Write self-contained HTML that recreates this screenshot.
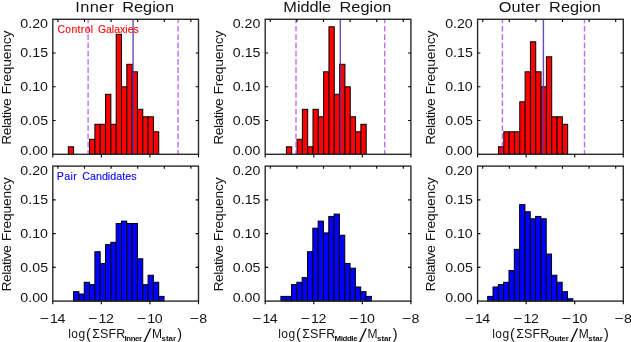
<!DOCTYPE html>
<html><head><meta charset="utf-8"><title>Histograms</title>
<style>html,body{margin:0;padding:0;background:#fff}svg{display:block}text{font-family:"Liberation Sans",sans-serif}</style></head><body>
<svg width="631" height="342" viewBox="0 0 631 342">
<rect width="631" height="342" fill="#fff"/>
<rect x="68.30" y="146.80" width="5.32" height="7.50" fill="#ff0000" stroke="#000" stroke-width="1.0"/>
<rect x="89.58" y="139.30" width="5.32" height="15.00" fill="#ff0000" stroke="#000" stroke-width="1.0"/>
<rect x="94.90" y="124.30" width="5.32" height="30.00" fill="#ff0000" stroke="#000" stroke-width="1.0"/>
<rect x="100.22" y="124.30" width="5.32" height="30.00" fill="#ff0000" stroke="#000" stroke-width="1.0"/>
<rect x="105.54" y="94.30" width="5.32" height="60.00" fill="#ff0000" stroke="#000" stroke-width="1.0"/>
<rect x="110.86" y="124.30" width="5.32" height="30.00" fill="#ff0000" stroke="#000" stroke-width="1.0"/>
<rect x="116.18" y="34.30" width="5.32" height="120.00" fill="#ff0000" stroke="#000" stroke-width="1.0"/>
<rect x="121.50" y="86.80" width="5.32" height="67.50" fill="#ff0000" stroke="#000" stroke-width="1.0"/>
<rect x="126.82" y="64.30" width="5.32" height="90.00" fill="#ff0000" stroke="#000" stroke-width="1.0"/>
<rect x="132.14" y="71.80" width="5.32" height="82.50" fill="#ff0000" stroke="#000" stroke-width="1.0"/>
<rect x="137.46" y="109.30" width="5.32" height="45.00" fill="#ff0000" stroke="#000" stroke-width="1.0"/>
<rect x="142.78" y="116.80" width="5.32" height="37.50" fill="#ff0000" stroke="#000" stroke-width="1.0"/>
<rect x="148.10" y="116.80" width="5.32" height="37.50" fill="#ff0000" stroke="#000" stroke-width="1.0"/>
<rect x="153.42" y="131.80" width="5.32" height="22.50" fill="#ff0000" stroke="#000" stroke-width="1.0"/>
<line x1="88.1" y1="154.3" x2="88.1" y2="19.3" stroke="#a020f0" stroke-opacity="0.66" stroke-width="1.4" stroke-dasharray="5.7 2.58" stroke-dashoffset="1.5"/>
<line x1="178.1" y1="154.3" x2="178.1" y2="19.3" stroke="#a020f0" stroke-opacity="0.66" stroke-width="1.4" stroke-dasharray="5.7 2.58" stroke-dashoffset="1.5"/>
<line x1="133.1" y1="154.3" x2="133.1" y2="19.3" stroke="#5434ac" stroke-opacity="0.88" stroke-width="1.4"/>
<rect x="52.8" y="19.3" width="145.7" height="135.0" stroke="#2a2a2a" stroke-width="1.4" fill="none"/>
<path d="M57.90 19.3v2.6M84.50 19.3v2.6M111.10 19.3v2.6M137.70 19.3v2.6M164.30 19.3v2.6M190.90 19.3v2.6M52.80 154.3v3.2M101.37 154.3v3.2M149.93 154.3v3.2M198.50 154.3v3.2M52.8 120.55h2.8M198.50 120.55h-2.8M52.8 86.80h2.8M198.50 86.80h-2.8M52.8 53.05h2.8M198.50 53.05h-2.8" stroke="#000" stroke-width="1.1" fill="none"/>
<rect x="286.40" y="146.80" width="5.32" height="7.50" fill="#ff0000" stroke="#000" stroke-width="1.0"/>
<rect x="297.04" y="139.30" width="5.32" height="15.00" fill="#ff0000" stroke="#000" stroke-width="1.0"/>
<rect x="302.36" y="109.30" width="5.32" height="45.00" fill="#ff0000" stroke="#000" stroke-width="1.0"/>
<rect x="307.68" y="146.80" width="5.32" height="7.50" fill="#ff0000" stroke="#000" stroke-width="1.0"/>
<rect x="313.00" y="109.30" width="5.32" height="45.00" fill="#ff0000" stroke="#000" stroke-width="1.0"/>
<rect x="318.32" y="116.80" width="5.32" height="37.50" fill="#ff0000" stroke="#000" stroke-width="1.0"/>
<rect x="323.64" y="71.80" width="5.32" height="82.50" fill="#ff0000" stroke="#000" stroke-width="1.0"/>
<rect x="328.96" y="26.80" width="5.32" height="127.50" fill="#ff0000" stroke="#000" stroke-width="1.0"/>
<rect x="334.28" y="94.30" width="5.32" height="60.00" fill="#ff0000" stroke="#000" stroke-width="1.0"/>
<rect x="339.60" y="64.30" width="5.32" height="90.00" fill="#ff0000" stroke="#000" stroke-width="1.0"/>
<rect x="344.92" y="86.80" width="5.32" height="67.50" fill="#ff0000" stroke="#000" stroke-width="1.0"/>
<rect x="350.24" y="116.80" width="5.32" height="37.50" fill="#ff0000" stroke="#000" stroke-width="1.0"/>
<rect x="355.56" y="131.80" width="5.32" height="22.50" fill="#ff0000" stroke="#000" stroke-width="1.0"/>
<rect x="360.88" y="124.30" width="5.32" height="30.00" fill="#ff0000" stroke="#000" stroke-width="1.0"/>
<line x1="296.0" y1="154.3" x2="296.0" y2="19.3" stroke="#a020f0" stroke-opacity="0.66" stroke-width="1.4" stroke-dasharray="5.7 2.58" stroke-dashoffset="1.5"/>
<line x1="384.7" y1="154.3" x2="384.7" y2="19.3" stroke="#a020f0" stroke-opacity="0.66" stroke-width="1.4" stroke-dasharray="5.7 2.58" stroke-dashoffset="1.5"/>
<line x1="340.3" y1="154.3" x2="340.3" y2="19.3" stroke="#5434ac" stroke-opacity="0.88" stroke-width="1.4"/>
<rect x="265.2" y="19.3" width="145.7" height="135.0" stroke="#2a2a2a" stroke-width="1.4" fill="none"/>
<path d="M270.30 19.3v2.6M296.90 19.3v2.6M323.50 19.3v2.6M350.10 19.3v2.6M376.70 19.3v2.6M403.30 19.3v2.6M265.20 154.3v3.2M313.77 154.3v3.2M362.33 154.3v3.2M410.90 154.3v3.2M265.2 120.55h2.8M410.90 120.55h-2.8M265.2 86.80h2.8M410.90 86.80h-2.8M265.2 53.05h2.8M410.90 53.05h-2.8" stroke="#000" stroke-width="1.1" fill="none"/>
<rect x="498.50" y="146.80" width="5.32" height="7.50" fill="#ff0000" stroke="#000" stroke-width="1.0"/>
<rect x="503.82" y="131.80" width="5.32" height="22.50" fill="#ff0000" stroke="#000" stroke-width="1.0"/>
<rect x="509.14" y="131.80" width="5.32" height="22.50" fill="#ff0000" stroke="#000" stroke-width="1.0"/>
<rect x="514.46" y="131.80" width="5.32" height="22.50" fill="#ff0000" stroke="#000" stroke-width="1.0"/>
<rect x="519.78" y="101.80" width="5.32" height="52.50" fill="#ff0000" stroke="#000" stroke-width="1.0"/>
<rect x="525.10" y="71.80" width="5.32" height="82.50" fill="#ff0000" stroke="#000" stroke-width="1.0"/>
<rect x="530.42" y="41.80" width="5.32" height="112.50" fill="#ff0000" stroke="#000" stroke-width="1.0"/>
<rect x="535.74" y="71.80" width="5.32" height="82.50" fill="#ff0000" stroke="#000" stroke-width="1.0"/>
<rect x="541.06" y="86.80" width="5.32" height="67.50" fill="#ff0000" stroke="#000" stroke-width="1.0"/>
<rect x="546.38" y="56.80" width="5.32" height="97.50" fill="#ff0000" stroke="#000" stroke-width="1.0"/>
<rect x="551.70" y="116.80" width="5.32" height="37.50" fill="#ff0000" stroke="#000" stroke-width="1.0"/>
<rect x="557.02" y="116.80" width="5.32" height="37.50" fill="#ff0000" stroke="#000" stroke-width="1.0"/>
<rect x="562.34" y="124.30" width="5.32" height="30.00" fill="#ff0000" stroke="#000" stroke-width="1.0"/>
<line x1="502.4" y1="154.3" x2="502.4" y2="19.3" stroke="#a020f0" stroke-opacity="0.66" stroke-width="1.4" stroke-dasharray="5.7 2.58" stroke-dashoffset="1.5"/>
<line x1="584.5" y1="154.3" x2="584.5" y2="19.3" stroke="#a020f0" stroke-opacity="0.66" stroke-width="1.4" stroke-dasharray="5.7 2.58" stroke-dashoffset="1.5"/>
<line x1="543.4" y1="154.3" x2="543.4" y2="19.3" stroke="#5434ac" stroke-opacity="0.88" stroke-width="1.4"/>
<rect x="477.6" y="19.3" width="145.7" height="135.0" stroke="#2a2a2a" stroke-width="1.4" fill="none"/>
<path d="M482.70 19.3v2.6M509.30 19.3v2.6M535.90 19.3v2.6M562.50 19.3v2.6M589.10 19.3v2.6M615.70 19.3v2.6M477.60 154.3v3.2M526.17 154.3v3.2M574.73 154.3v3.2M623.30 154.3v3.2M477.6 120.55h2.8M623.30 120.55h-2.8M477.6 86.80h2.8M623.30 86.80h-2.8M477.6 53.05h2.8M623.30 53.05h-2.8" stroke="#000" stroke-width="1.1" fill="none"/>
<rect x="73.60" y="291.69" width="5.32" height="9.41" fill="#0000ff" stroke="#000" stroke-width="1.0"/>
<rect x="78.92" y="294.04" width="5.32" height="7.06" fill="#0000ff" stroke="#000" stroke-width="1.0"/>
<rect x="84.24" y="282.28" width="5.32" height="18.82" fill="#0000ff" stroke="#000" stroke-width="1.0"/>
<rect x="89.56" y="284.64" width="5.32" height="16.46" fill="#0000ff" stroke="#000" stroke-width="1.0"/>
<rect x="94.88" y="251.71" width="5.32" height="49.39" fill="#0000ff" stroke="#000" stroke-width="1.0"/>
<rect x="100.20" y="263.47" width="5.32" height="37.63" fill="#0000ff" stroke="#000" stroke-width="1.0"/>
<rect x="105.52" y="244.65" width="5.32" height="56.45" fill="#0000ff" stroke="#000" stroke-width="1.0"/>
<rect x="110.84" y="242.30" width="5.32" height="58.80" fill="#0000ff" stroke="#000" stroke-width="1.0"/>
<rect x="116.16" y="223.49" width="5.32" height="77.61" fill="#0000ff" stroke="#000" stroke-width="1.0"/>
<rect x="121.48" y="221.13" width="5.32" height="79.97" fill="#0000ff" stroke="#000" stroke-width="1.0"/>
<rect x="126.80" y="223.49" width="5.32" height="77.61" fill="#0000ff" stroke="#000" stroke-width="1.0"/>
<rect x="132.12" y="223.49" width="5.32" height="77.61" fill="#0000ff" stroke="#000" stroke-width="1.0"/>
<rect x="137.44" y="258.77" width="5.32" height="42.33" fill="#0000ff" stroke="#000" stroke-width="1.0"/>
<rect x="142.76" y="284.64" width="5.32" height="16.46" fill="#0000ff" stroke="#000" stroke-width="1.0"/>
<rect x="148.08" y="275.23" width="5.32" height="25.87" fill="#0000ff" stroke="#000" stroke-width="1.0"/>
<rect x="153.40" y="282.28" width="5.32" height="18.82" fill="#0000ff" stroke="#000" stroke-width="1.0"/>
<rect x="158.72" y="296.40" width="5.32" height="4.70" fill="#0000ff" stroke="#000" stroke-width="1.0"/>
<rect x="52.8" y="166.1" width="145.7" height="135.00000000000003" stroke="#2a2a2a" stroke-width="1.4" fill="none"/>
<path d="M57.90 166.1v2.6M84.50 166.1v2.6M111.10 166.1v2.6M137.70 166.1v2.6M164.30 166.1v2.6M190.90 166.1v2.6M52.80 301.1v3.2M101.37 301.1v3.2M149.93 301.1v3.2M198.50 301.1v3.2M52.8 267.35h2.8M198.50 267.35h-2.8M52.8 233.60h2.8M198.50 233.60h-2.8M52.8 199.85h2.8M198.50 199.85h-2.8" stroke="#000" stroke-width="1.1" fill="none"/>
<rect x="280.90" y="296.40" width="5.32" height="4.70" fill="#0000ff" stroke="#000" stroke-width="1.0"/>
<rect x="286.22" y="296.40" width="5.32" height="4.70" fill="#0000ff" stroke="#000" stroke-width="1.0"/>
<rect x="291.54" y="284.64" width="5.32" height="16.46" fill="#0000ff" stroke="#000" stroke-width="1.0"/>
<rect x="296.86" y="282.28" width="5.32" height="18.82" fill="#0000ff" stroke="#000" stroke-width="1.0"/>
<rect x="302.18" y="277.58" width="5.32" height="23.52" fill="#0000ff" stroke="#000" stroke-width="1.0"/>
<rect x="307.50" y="251.71" width="5.32" height="49.39" fill="#0000ff" stroke="#000" stroke-width="1.0"/>
<rect x="312.82" y="228.19" width="5.32" height="72.91" fill="#0000ff" stroke="#000" stroke-width="1.0"/>
<rect x="318.14" y="221.13" width="5.32" height="79.97" fill="#0000ff" stroke="#000" stroke-width="1.0"/>
<rect x="323.46" y="232.89" width="5.32" height="68.21" fill="#0000ff" stroke="#000" stroke-width="1.0"/>
<rect x="328.78" y="216.43" width="5.32" height="84.67" fill="#0000ff" stroke="#000" stroke-width="1.0"/>
<rect x="334.10" y="214.08" width="5.32" height="87.02" fill="#0000ff" stroke="#000" stroke-width="1.0"/>
<rect x="339.42" y="235.25" width="5.32" height="65.85" fill="#0000ff" stroke="#000" stroke-width="1.0"/>
<rect x="344.74" y="263.47" width="5.32" height="37.63" fill="#0000ff" stroke="#000" stroke-width="1.0"/>
<rect x="350.06" y="268.17" width="5.32" height="32.93" fill="#0000ff" stroke="#000" stroke-width="1.0"/>
<rect x="355.38" y="286.99" width="5.32" height="14.11" fill="#0000ff" stroke="#000" stroke-width="1.0"/>
<rect x="360.70" y="291.69" width="5.32" height="9.41" fill="#0000ff" stroke="#000" stroke-width="1.0"/>
<rect x="366.02" y="296.40" width="5.32" height="4.70" fill="#0000ff" stroke="#000" stroke-width="1.0"/>
<rect x="265.2" y="166.1" width="145.7" height="135.00000000000003" stroke="#2a2a2a" stroke-width="1.4" fill="none"/>
<path d="M270.30 166.1v2.6M296.90 166.1v2.6M323.50 166.1v2.6M350.10 166.1v2.6M376.70 166.1v2.6M403.30 166.1v2.6M265.20 301.1v3.2M313.77 301.1v3.2M362.33 301.1v3.2M410.90 301.1v3.2M265.2 267.35h2.8M410.90 267.35h-2.8M265.2 233.60h2.8M410.90 233.60h-2.8M265.2 199.85h2.8M410.90 199.85h-2.8" stroke="#000" stroke-width="1.1" fill="none"/>
<rect x="487.70" y="296.40" width="5.32" height="4.70" fill="#0000ff" stroke="#000" stroke-width="1.0"/>
<rect x="493.02" y="286.99" width="5.32" height="14.11" fill="#0000ff" stroke="#000" stroke-width="1.0"/>
<rect x="498.34" y="284.64" width="5.32" height="16.46" fill="#0000ff" stroke="#000" stroke-width="1.0"/>
<rect x="503.66" y="282.28" width="5.32" height="18.82" fill="#0000ff" stroke="#000" stroke-width="1.0"/>
<rect x="508.98" y="270.53" width="5.32" height="30.57" fill="#0000ff" stroke="#000" stroke-width="1.0"/>
<rect x="514.30" y="249.36" width="5.32" height="51.74" fill="#0000ff" stroke="#000" stroke-width="1.0"/>
<rect x="519.62" y="204.67" width="5.32" height="96.43" fill="#0000ff" stroke="#000" stroke-width="1.0"/>
<rect x="524.94" y="211.73" width="5.32" height="89.37" fill="#0000ff" stroke="#000" stroke-width="1.0"/>
<rect x="530.26" y="218.78" width="5.32" height="82.32" fill="#0000ff" stroke="#000" stroke-width="1.0"/>
<rect x="535.58" y="216.43" width="5.32" height="84.67" fill="#0000ff" stroke="#000" stroke-width="1.0"/>
<rect x="540.90" y="218.78" width="5.32" height="82.32" fill="#0000ff" stroke="#000" stroke-width="1.0"/>
<rect x="546.22" y="254.06" width="5.32" height="47.04" fill="#0000ff" stroke="#000" stroke-width="1.0"/>
<rect x="551.54" y="275.23" width="5.32" height="25.87" fill="#0000ff" stroke="#000" stroke-width="1.0"/>
<rect x="556.86" y="282.28" width="5.32" height="18.82" fill="#0000ff" stroke="#000" stroke-width="1.0"/>
<rect x="562.18" y="291.69" width="5.32" height="9.41" fill="#0000ff" stroke="#000" stroke-width="1.0"/>
<rect x="567.50" y="298.75" width="5.32" height="2.35" fill="#0000ff" stroke="#000" stroke-width="1.0"/>
<rect x="477.6" y="166.1" width="145.7" height="135.00000000000003" stroke="#2a2a2a" stroke-width="1.4" fill="none"/>
<path d="M482.70 166.1v2.6M509.30 166.1v2.6M535.90 166.1v2.6M562.50 166.1v2.6M589.10 166.1v2.6M615.70 166.1v2.6M477.60 301.1v3.2M526.17 301.1v3.2M574.73 301.1v3.2M623.30 301.1v3.2M477.6 267.35h2.8M623.30 267.35h-2.8M477.6 233.60h2.8M623.30 233.60h-2.8M477.6 199.85h2.8M623.30 199.85h-2.8" stroke="#000" stroke-width="1.1" fill="none"/>
<g opacity="0.99">
<text transform="translate(75.36 11.60) scale(1.12 1)" font-size="14.6" style="fill:#111;letter-spacing:0.286px">Inner</text>
<text transform="translate(122.20 11.60) scale(1.12 1)" font-size="14.6" style="fill:#111;letter-spacing:0.004px">Region</text>
<text transform="translate(283.35 11.60) scale(1.12 1)" font-size="14.6" style="fill:#111;letter-spacing:-0.073px">Middle</text>
<text transform="translate(339.50 11.60) scale(1.12 1)" font-size="14.6" style="fill:#111;letter-spacing:0.004px">Region</text>
<text transform="translate(498.66 11.60) scale(1.12 1)" font-size="14.6" style="fill:#111;letter-spacing:0.121px">Outer</text>
<text transform="translate(549.10 11.60) scale(1.12 1)" font-size="14.6" style="fill:#111;letter-spacing:0.004px">Region</text>
<text transform="translate(20.35 154.70) scale(1.1 1)" font-size="12.9" style="fill:#111;letter-spacing:-0.011px">0.00</text>
<text transform="translate(20.35 124.95) scale(1.1 1)" font-size="12.9" style="fill:#111;letter-spacing:0.030px">0.05</text>
<text transform="translate(20.35 91.20) scale(1.1 1)" font-size="12.9" style="fill:#111;letter-spacing:-0.011px">0.10</text>
<text transform="translate(20.35 57.45) scale(1.1 1)" font-size="12.9" style="fill:#111;letter-spacing:0.030px">0.15</text>
<text transform="translate(20.35 28.00) scale(1.1 1)" font-size="12.9" style="fill:#111;letter-spacing:-0.011px">0.20</text>
<text transform="rotate(-90) translate(-144.72 10.50) scale(1.12 1)" font-size="12.4" style="fill:#111;letter-spacing:-0.477px">Relative</text>
<text transform="rotate(-90) translate(-94.42 10.50) scale(1.12 1)" font-size="12.4" style="fill:#111;letter-spacing:-0.179px">Frequency</text>
<text transform="translate(232.75 154.70) scale(1.1 1)" font-size="12.9" style="fill:#111;letter-spacing:-0.011px">0.00</text>
<text transform="translate(232.75 124.95) scale(1.1 1)" font-size="12.9" style="fill:#111;letter-spacing:0.030px">0.05</text>
<text transform="translate(232.75 91.20) scale(1.1 1)" font-size="12.9" style="fill:#111;letter-spacing:-0.011px">0.10</text>
<text transform="translate(232.75 57.45) scale(1.1 1)" font-size="12.9" style="fill:#111;letter-spacing:0.030px">0.15</text>
<text transform="translate(232.75 28.00) scale(1.1 1)" font-size="12.9" style="fill:#111;letter-spacing:-0.011px">0.20</text>
<text transform="rotate(-90) translate(-144.72 222.90) scale(1.12 1)" font-size="12.4" style="fill:#111;letter-spacing:-0.477px">Relative</text>
<text transform="rotate(-90) translate(-94.42 222.90) scale(1.12 1)" font-size="12.4" style="fill:#111;letter-spacing:-0.179px">Frequency</text>
<text transform="translate(445.15 154.70) scale(1.1 1)" font-size="12.9" style="fill:#111;letter-spacing:-0.011px">0.00</text>
<text transform="translate(445.15 124.95) scale(1.1 1)" font-size="12.9" style="fill:#111;letter-spacing:0.030px">0.05</text>
<text transform="translate(445.15 91.20) scale(1.1 1)" font-size="12.9" style="fill:#111;letter-spacing:-0.011px">0.10</text>
<text transform="translate(445.15 57.45) scale(1.1 1)" font-size="12.9" style="fill:#111;letter-spacing:0.030px">0.15</text>
<text transform="translate(445.15 28.00) scale(1.1 1)" font-size="12.9" style="fill:#111;letter-spacing:-0.011px">0.20</text>
<text transform="rotate(-90) translate(-144.72 435.30) scale(1.12 1)" font-size="12.4" style="fill:#111;letter-spacing:-0.477px">Relative</text>
<text transform="rotate(-90) translate(-94.42 435.30) scale(1.12 1)" font-size="12.4" style="fill:#111;letter-spacing:-0.179px">Frequency</text>
<text transform="translate(20.35 301.50) scale(1.1 1)" font-size="12.9" style="fill:#111;letter-spacing:-0.011px">0.00</text>
<text transform="translate(20.35 271.75) scale(1.1 1)" font-size="12.9" style="fill:#111;letter-spacing:0.030px">0.05</text>
<text transform="translate(20.35 238.00) scale(1.1 1)" font-size="12.9" style="fill:#111;letter-spacing:-0.011px">0.10</text>
<text transform="translate(20.35 204.25) scale(1.1 1)" font-size="12.9" style="fill:#111;letter-spacing:0.030px">0.15</text>
<text transform="translate(20.35 174.80) scale(1.1 1)" font-size="12.9" style="fill:#111;letter-spacing:-0.011px">0.20</text>
<text transform="rotate(-90) translate(-291.52 10.50) scale(1.12 1)" font-size="12.4" style="fill:#111;letter-spacing:-0.477px">Relative</text>
<text transform="rotate(-90) translate(-241.22 10.50) scale(1.12 1)" font-size="12.4" style="fill:#111;letter-spacing:-0.179px">Frequency</text>
<text transform="translate(232.75 301.50) scale(1.1 1)" font-size="12.9" style="fill:#111;letter-spacing:-0.011px">0.00</text>
<text transform="translate(232.75 271.75) scale(1.1 1)" font-size="12.9" style="fill:#111;letter-spacing:0.030px">0.05</text>
<text transform="translate(232.75 238.00) scale(1.1 1)" font-size="12.9" style="fill:#111;letter-spacing:-0.011px">0.10</text>
<text transform="translate(232.75 204.25) scale(1.1 1)" font-size="12.9" style="fill:#111;letter-spacing:0.030px">0.15</text>
<text transform="translate(232.75 174.80) scale(1.1 1)" font-size="12.9" style="fill:#111;letter-spacing:-0.011px">0.20</text>
<text transform="rotate(-90) translate(-291.52 222.90) scale(1.12 1)" font-size="12.4" style="fill:#111;letter-spacing:-0.477px">Relative</text>
<text transform="rotate(-90) translate(-241.22 222.90) scale(1.12 1)" font-size="12.4" style="fill:#111;letter-spacing:-0.179px">Frequency</text>
<text transform="translate(445.15 301.50) scale(1.1 1)" font-size="12.9" style="fill:#111;letter-spacing:-0.011px">0.00</text>
<text transform="translate(445.15 271.75) scale(1.1 1)" font-size="12.9" style="fill:#111;letter-spacing:0.030px">0.05</text>
<text transform="translate(445.15 238.00) scale(1.1 1)" font-size="12.9" style="fill:#111;letter-spacing:-0.011px">0.10</text>
<text transform="translate(445.15 204.25) scale(1.1 1)" font-size="12.9" style="fill:#111;letter-spacing:0.030px">0.15</text>
<text transform="translate(445.15 174.80) scale(1.1 1)" font-size="12.9" style="fill:#111;letter-spacing:-0.011px">0.20</text>
<text transform="rotate(-90) translate(-291.52 435.30) scale(1.12 1)" font-size="12.4" style="fill:#111;letter-spacing:-0.477px">Relative</text>
<text transform="rotate(-90) translate(-241.22 435.30) scale(1.12 1)" font-size="12.4" style="fill:#111;letter-spacing:-0.179px">Frequency</text>
<text transform="translate(39.84 322.80) scale(1.216 1)" font-size="12.9" style="fill:#111">−</text>
<text transform="translate(50.10 322.80) scale(1.1 1)" font-size="12.9" style="fill:#111;letter-spacing:-0.545px">14</text>
<text transform="translate(88.34 322.80) scale(1.216 1)" font-size="12.9" style="fill:#111">−</text>
<text transform="translate(98.60 322.80) scale(1.1 1)" font-size="12.9" style="fill:#111;letter-spacing:-0.352px">12</text>
<text transform="translate(136.71 322.80) scale(1.264 1)" font-size="12.9" style="fill:#111">−</text>
<text transform="translate(147.20 322.80) scale(1.1 1)" font-size="12.9" style="fill:#111;letter-spacing:-0.330px">10</text>
<text transform="translate(189.64 322.80) scale(1.216 1)" font-size="12.9" style="fill:#111">−</text>
<text transform="translate(199.21 322.80) scale(1.1 1)" font-size="12.9" style="fill:#111;letter-spacing:0.000px">8</text>
<text transform="translate(252.24 322.80) scale(1.216 1)" font-size="12.9" style="fill:#111">−</text>
<text transform="translate(262.50 322.80) scale(1.1 1)" font-size="12.9" style="fill:#111;letter-spacing:-0.545px">14</text>
<text transform="translate(300.74 322.80) scale(1.216 1)" font-size="12.9" style="fill:#111">−</text>
<text transform="translate(311.00 322.80) scale(1.1 1)" font-size="12.9" style="fill:#111;letter-spacing:-0.352px">12</text>
<text transform="translate(349.11 322.80) scale(1.264 1)" font-size="12.9" style="fill:#111">−</text>
<text transform="translate(359.60 322.80) scale(1.1 1)" font-size="12.9" style="fill:#111;letter-spacing:-0.330px">10</text>
<text transform="translate(402.04 322.80) scale(1.216 1)" font-size="12.9" style="fill:#111">−</text>
<text transform="translate(411.61 322.80) scale(1.1 1)" font-size="12.9" style="fill:#111;letter-spacing:0.000px">8</text>
<text transform="translate(464.64 322.80) scale(1.216 1)" font-size="12.9" style="fill:#111">−</text>
<text transform="translate(474.90 322.80) scale(1.1 1)" font-size="12.9" style="fill:#111;letter-spacing:-0.545px">14</text>
<text transform="translate(513.14 322.80) scale(1.216 1)" font-size="12.9" style="fill:#111">−</text>
<text transform="translate(523.40 322.80) scale(1.1 1)" font-size="12.9" style="fill:#111;letter-spacing:-0.352px">12</text>
<text transform="translate(561.51 322.80) scale(1.264 1)" font-size="12.9" style="fill:#111">−</text>
<text transform="translate(572.00 322.80) scale(1.1 1)" font-size="12.9" style="fill:#111;letter-spacing:-0.330px">10</text>
<text transform="translate(614.44 322.80) scale(1.216 1)" font-size="12.9" style="fill:#111">−</text>
<text transform="translate(624.01 322.80) scale(1.1 1)" font-size="12.9" style="fill:#111;letter-spacing:0.000px">8</text>
<text transform="translate(68.35 337.80)" font-size="12.0" style="fill:#111;letter-spacing:0.350px">log</text>
<text transform="translate(85.92 338.70)" font-size="14.5" style="fill:#111;letter-spacing:0.000px">(</text>
<text transform="translate(92.25 337.80) scale(1.04 1)" font-size="12.0" style="fill:#111;letter-spacing:0.109px">ΣSFR</text>
<text transform="translate(124.50 341.30)" font-size="7.9" font-weight="bold" style="fill:#111;letter-spacing:-0.431px">Inner</text>
<text transform="translate(142.60 342.60) scale(1.727 1)" font-size="20" style="fill:#111" stroke="#fff" stroke-width="0.6">/</text>
<text transform="translate(152.10 337.80)" font-size="12.0" style="fill:#111;letter-spacing:0.000px">M</text>
<text transform="translate(161.62 341.30)" font-size="7.9" font-weight="bold" style="fill:#111;letter-spacing:-0.033px">star</text>
<text transform="translate(177.28 338.70)" font-size="14.5" style="fill:#111;letter-spacing:0.000px">)</text>
<text transform="translate(278.35 337.80)" font-size="12.0" style="fill:#111;letter-spacing:0.350px">log</text>
<text transform="translate(295.93 338.70)" font-size="14.5" style="fill:#111;letter-spacing:0.000px">(</text>
<text transform="translate(302.25 337.80) scale(1.04 1)" font-size="12.0" style="fill:#111;letter-spacing:0.109px">ΣSFR</text>
<text transform="translate(334.50 341.30)" font-size="7.9" font-weight="bold" style="fill:#111;letter-spacing:-0.390px">Middle</text>
<text transform="translate(358.00 342.60) scale(1.727 1)" font-size="20" style="fill:#111" stroke="#fff" stroke-width="0.6">/</text>
<text transform="translate(367.50 337.80)" font-size="12.0" style="fill:#111;letter-spacing:0.000px">M</text>
<text transform="translate(377.03 341.30)" font-size="7.9" font-weight="bold" style="fill:#111;letter-spacing:-0.033px">star</text>
<text transform="translate(392.68 338.70)" font-size="14.5" style="fill:#111;letter-spacing:0.000px">)</text>
<text transform="translate(492.35 337.80)" font-size="12.0" style="fill:#111;letter-spacing:0.350px">log</text>
<text transform="translate(509.93 338.70)" font-size="14.5" style="fill:#111;letter-spacing:0.000px">(</text>
<text transform="translate(516.25 337.80) scale(1.04 1)" font-size="12.0" style="fill:#111;letter-spacing:0.109px">ΣSFR</text>
<text transform="translate(548.62 341.30)" font-size="7.9" font-weight="bold" style="fill:#111;letter-spacing:-0.225px">Outer</text>
<text transform="translate(569.30 342.60) scale(1.727 1)" font-size="20" style="fill:#111" stroke="#fff" stroke-width="0.6">/</text>
<text transform="translate(578.80 337.80)" font-size="12.0" style="fill:#111;letter-spacing:0.000px">M</text>
<text transform="translate(588.33 341.30)" font-size="7.9" font-weight="bold" style="fill:#111;letter-spacing:-0.033px">star</text>
<text transform="translate(603.98 338.70)" font-size="14.5" style="fill:#111;letter-spacing:0.000px">)</text>
<text transform="translate(57.48 32.55) scale(1.04 1)" font-size="10.0" style="fill:#ff0000;letter-spacing:0.346px" stroke="#ff0000" stroke-width="0.12">Control</text>
<text transform="translate(97.88 32.55) scale(1.04 1)" font-size="10.0" style="fill:#ff0000;letter-spacing:0.052px" stroke="#ff0000" stroke-width="0.12">Galaxies</text>
<text transform="translate(56.79 179.80) scale(1.04 1)" font-size="10.3" style="fill:#0000ff;letter-spacing:0.340px" stroke="#0000ff" stroke-width="0.12">Pair</text>
<text transform="translate(82.18 179.80) scale(1.04 1)" font-size="10.3" style="fill:#0000ff;letter-spacing:0.021px" stroke="#0000ff" stroke-width="0.12">Candidates</text>
</g>
</svg></body></html>
